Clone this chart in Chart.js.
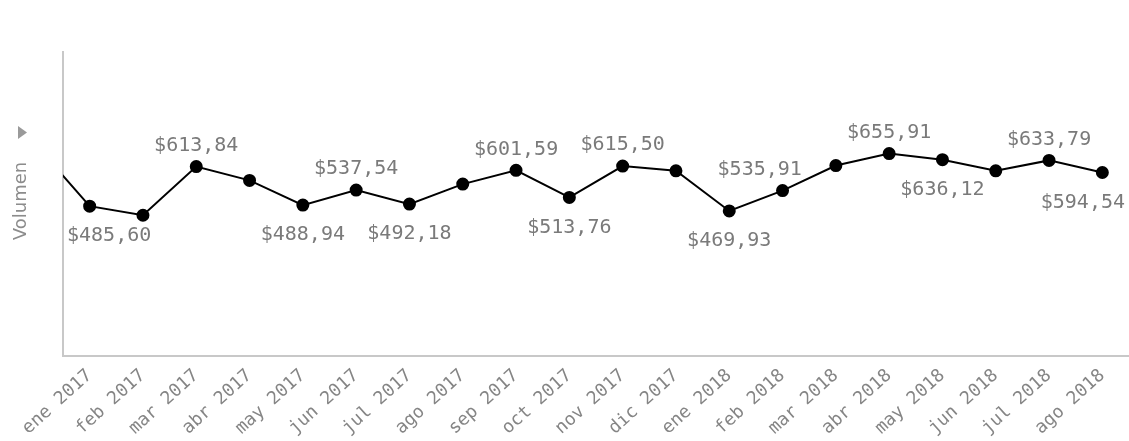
<!DOCTYPE html>
<html>
<head>
<meta charset="utf-8">
<script src="https://cdn.jsdelivr.net/npm/chart.js@4"></script>
<style>
  html, body { margin: 0; padding: 0; background: #fff; }
  #wrap { width: 1129px; height: 441px; }
</style>
</head>
<body>
<div id="wrap"><canvas id="volume-chart"></canvas></div>
<script>
// months, dic 2016 sits just left of the visible range
const months = ['dic 2016', 'ene 2017', 'feb 2017', 'mar 2017', 'abr 2017', 'may 2017', 'jun 2017', 'jul 2017', 'ago 2017', 'sep 2017', 'oct 2017', 'nov 2017', 'dic 2017', 'ene 2018', 'feb 2018', 'mar 2018', 'abr 2018', 'may 2018', 'jun 2018', 'jul 2018', 'ago 2018'];
const volumen = [682, 485.60, 456, 613.84, 569, 488.94, 537.54, 492.18, 557, 601.59, 513.76, 615.50, 600, 469.93, 535.91, 617, 655.91, 636.12, 600, 633.79, 594.54];
// which points carry a value label, and on which side
const labelSide = [null, 'below', null, 'above', null, 'below', 'above', 'below', null, 'above', 'below', 'above', null, 'below', 'above', null, 'above', 'below', null, 'above', 'below'];

const fmt = v => '$' + v.toFixed(2).replace('.', ',');

const valueLabels = {
    id: 'valueLabels',
    afterDatasetsDraw(chart) {
        const ctx = chart.ctx;
        const area = chart.chartArea;
        const pts = chart.getDatasetMeta(0).data;
        const h = 16;
        ctx.save();
        ctx.font = '20px "DejaVu Sans Mono"';
        ctx.fillStyle = '#7a7a7a';
        ctx.textAlign = 'center';
        pts.forEach((p, i) => {
            const side = labelSide[i];
            if (!side) return;
            const txt = fmt(volumen[i]);
            const w = ctx.measureText(txt).width;
            let x = Math.max(p.x, area.left + 4 + w / 2);
            x = Math.min(x, area.right - 4 - w / 2);
            const top = side === 'above' ? p.y - 11 - h : p.y + 20;
            // keep the label off the neighbouring markers
            [i - 1, i + 1].forEach(j => {
                const n = pts[j];
                if (!n) return;
                if (n.y + 8 < top || n.y - 8 > top + h) return;
                if (j > i && x + w / 2 > n.x - 20) x = n.x - 34 - w / 2;
                if (j < i && x - w / 2 < n.x + 20) x = n.x + 34 + w / 2;
            });
            if (side === 'above') {
                ctx.textBaseline = 'bottom';
                ctx.fillText(txt, x, p.y - 11);
            } else {
                ctx.textBaseline = 'top';
                ctx.fillText(txt, x, p.y + 20);
            }
        });
        ctx.restore();
    }
};

const axisTitle = {
    id: 'axisTitle',
    afterDraw(chart) {
        const ctx = chart.ctx;
        ctx.save();
        ctx.fillStyle = '#8c8c8c';
        ctx.font = '18px "DejaVu Sans"';
        ctx.translate(21, 201);
        ctx.rotate(-Math.PI / 2);
        ctx.textAlign = 'center';
        ctx.textBaseline = 'middle';
        ctx.fillText('Volumen', 0, 0);
        ctx.restore();
        // small arrow marker
        ctx.save();
        ctx.fillStyle = '#9a9a9a';
        ctx.beginPath();
        ctx.moveTo(18, 126);
        ctx.lineTo(27, 132.5);
        ctx.lineTo(18, 139);
        ctx.closePath();
        ctx.fill();
        ctx.restore();
    }
};

const volumeChart = new Chart(document.getElementById('volume-chart'), {
    type: 'line',
    data: {
        labels: months,
        datasets: [{
            label: 'Volumen',
            data: volumen,
            borderColor: '#000',
            borderWidth: 2,
            backgroundColor: '#000',
            pointRadius: 5.5,
            pointHoverRadius: 5.5,
            tension: 0,
            clip: 0
        }]
    },
    options: {
        responsive: true,
        maintainAspectRatio: false,
        animation: false,
        layout: { autoPadding: false, padding: { top: 52, right: 0, left: 0, bottom: 0 } },
        plugins: {
            legend: { display: false },
            tooltip: { enabled: false }
        },
        scales: {
            x: {
                min: 'ene 2017',
                offset: true,
                grid: { display: false },
                border: { display: true, color: '#c8c8c8', width: 2 },
                ticks: {
                    autoSkip: false,
                    minRotation: 42,
                    maxRotation: 42,
                    color: '#858585',
                    font: { family: 'DejaVu Sans Mono', size: 18 },
                    padding: 1
                },
                afterFit: s => {
                    s.height = 85;
                    s.paddingRight = 0;
                    s.paddingLeft = 0;
                }
            },
            y: {
                min: 0,
                max: 985,
                grid: { display: false },
                border: { display: true, color: '#c8c8c8', width: 2 },
                ticks: { display: false },
                afterFit: s => { s.width = 63; }
            }
        }
    },
    plugins: [valueLabels, axisTitle]
});
</script>
</body>
</html>
